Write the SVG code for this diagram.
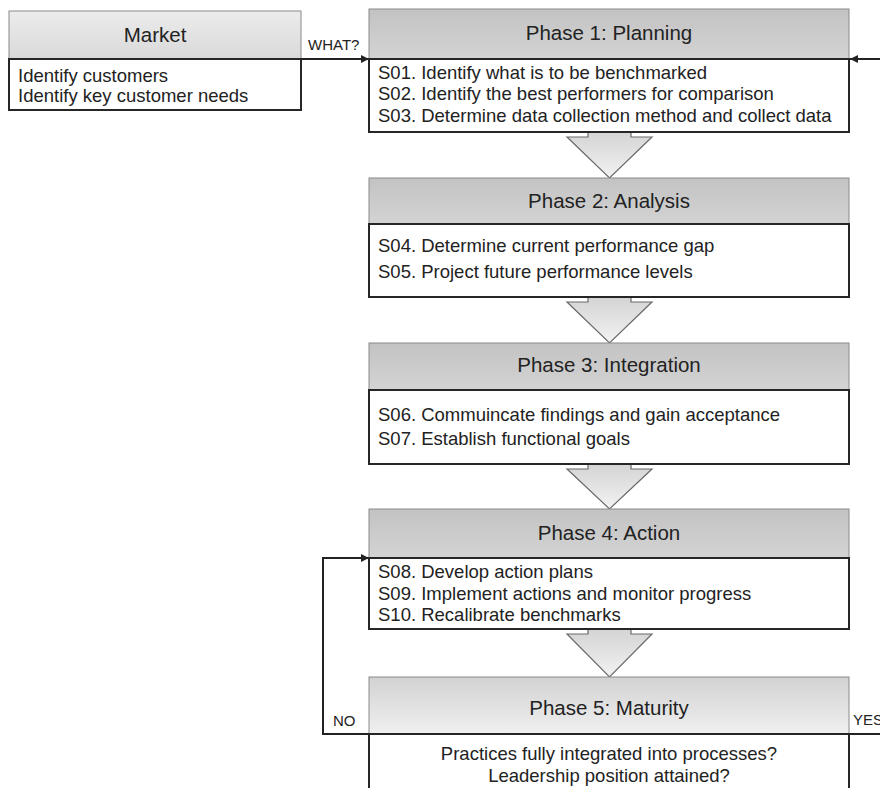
<svg xmlns="http://www.w3.org/2000/svg" width="880" height="788" viewBox="0 0 880 788">
  <defs>
    <linearGradient id="gPhase" x1="0" y1="0" x2="0" y2="1">
      <stop offset="0" stop-color="#c3c3c3"/>
      <stop offset="1" stop-color="#d3d3d3"/>
    </linearGradient>
    <linearGradient id="gPhase5" x1="0" y1="0" x2="0" y2="1">
      <stop offset="0" stop-color="#d2d2d2"/>
      <stop offset="1" stop-color="#f0f0f0"/>
    </linearGradient>
    <linearGradient id="gMarket" x1="0" y1="0" x2="0" y2="1">
      <stop offset="0" stop-color="#ececec"/>
      <stop offset="1" stop-color="#d9d9d9"/>
    </linearGradient>
    <linearGradient id="gArrow" x1="0" y1="0" x2="0" y2="1">
      <stop offset="0" stop-color="#d4d4d4"/>
      <stop offset="1" stop-color="#f2f2f2"/>
    </linearGradient>
    <marker id="ah" viewBox="0 0 10 10" refX="10" refY="5" markerWidth="10" markerHeight="8" markerUnits="userSpaceOnUse" orient="auto">
      <path d="M0,0 L10,5 L0,10 Z" fill="#222"/>
    </marker>
    <style>
      .hdr { stroke: #8a8a8a; stroke-width: 1; }
      .body { fill: #ffffff; stroke: #262626; stroke-width: 2; }
      .title { font-family: "Liberation Sans", Arial, sans-serif; font-size: 20.5px; fill: #222; text-anchor: middle; }
      .txt { font-family: "Liberation Sans", Arial, sans-serif; font-size: 18.5px; fill: #222; }
      .ctr { text-anchor: middle; }
      .lbl { font-family: "Liberation Sans", Arial, sans-serif; font-size: 15px; fill: #222; }
      .conn { fill: none; stroke: #222; stroke-width: 2; }
      .bigarrow { fill: url(#gArrow); stroke: #6a6a6a; stroke-width: 1.2; }
    </style>
  </defs>

  <!-- connectors -->
  <g id="connectors">
    <line class="conn" x1="301" y1="59" x2="369" y2="59" marker-end="url(#ah)"/>
    <line class="conn" x1="880" y1="59" x2="850" y2="59" marker-end="url(#ah)"/>
    <polyline class="conn" points="369,734 323,734 323,558 369,558" marker-end="url(#ah)"/>
    <line class="conn" x1="849" y1="734" x2="880" y2="734"/>
    <path class="bigarrow" d="M588,132 L588,137 L567,137 L609.5,178 L652,137 L631,137 L631,132"/>
    <path class="bigarrow" d="M588,297 L588,302 L567,302 L609.5,343 L652,302 L631,302 L631,297"/>
    <path class="bigarrow" d="M588,464 L588,469 L567,469 L609.5,509 L652,469 L631,469 L631,464"/>
    <path class="bigarrow" d="M588,629 L588,634 L567,634 L609.5,677 L652,634 L631,634 L631,629"/>
    <text class="lbl" x="308" y="50">WHAT?</text>
    <text class="lbl" x="333" y="726">NO</text>
    <text class="lbl" x="853" y="725">YES</text>
  </g>

  <!-- Market -->
  <g id="market">
    <rect class="hdr" x="9" y="11" width="292" height="48" fill="url(#gMarket)"/>
    <rect class="body" x="9" y="59" width="292" height="51"/>
    <text class="title" x="155" y="42">Market</text>
    <text class="txt" x="18" y="82">Identify customers</text>
    <text class="txt" x="18" y="102">Identify key customer needs</text>
  </g>

  <!-- Phase 1 -->
  <g id="phase1">
    <rect class="hdr" x="369" y="9" width="480" height="50" fill="url(#gPhase)"/>
    <rect class="body" x="369" y="59" width="480" height="73"/>
    <text class="title" x="609" y="40">Phase 1: Planning</text>
    <text class="txt" x="378" y="78.5">S01. Identify what is to be benchmarked</text>
    <text class="txt" x="378" y="100">S02. Identify the best performers for comparison</text>
    <text class="txt" x="378" y="121.5">S03. Determine data collection method and collect data</text>
  </g>

  <!-- Phase 2 -->
  <g id="phase2">
    <rect class="hdr" x="369" y="178" width="480" height="46" fill="url(#gPhase)"/>
    <rect class="body" x="369" y="224" width="480" height="73"/>
    <text class="title" x="609" y="207.5">Phase 2: Analysis</text>
    <text class="txt" x="378" y="252">S04. Determine current performance gap</text>
    <text class="txt" x="378" y="278">S05. Project future performance levels</text>
  </g>

  <!-- Phase 3 -->
  <g id="phase3">
    <rect class="hdr" x="369" y="343" width="480" height="47" fill="url(#gPhase)"/>
    <rect class="body" x="369" y="390" width="480" height="74"/>
    <text class="title" x="609" y="372">Phase 3: Integration</text>
    <text class="txt" x="378" y="421">S06. Commuincate findings and gain acceptance</text>
    <text class="txt" x="378" y="445">S07. Establish functional goals</text>
  </g>

  <!-- Phase 4 -->
  <g id="phase4">
    <rect class="hdr" x="369" y="509" width="480" height="49" fill="url(#gPhase)"/>
    <rect class="body" x="369" y="558" width="480" height="71"/>
    <text class="title" x="609" y="540">Phase 4: Action</text>
    <text class="txt" x="378" y="578">S08. Develop action plans</text>
    <text class="txt" x="378" y="599.5">S09. Implement actions and monitor progress</text>
    <text class="txt" x="378" y="621">S10. Recalibrate benchmarks</text>
  </g>

  <!-- Phase 5 -->
  <g id="phase5">
    <rect class="hdr" x="369" y="677" width="480" height="57" fill="url(#gPhase5)"/>
    <rect class="body" x="369" y="734" width="480" height="60"/>
    <text class="title" x="609" y="715">Phase 5: Maturity</text>
    <text class="txt ctr" x="609" y="760">Practices fully integrated into processes?</text>
    <text class="txt ctr" x="609" y="782">Leadership position attained?</text>
  </g>
</svg>
